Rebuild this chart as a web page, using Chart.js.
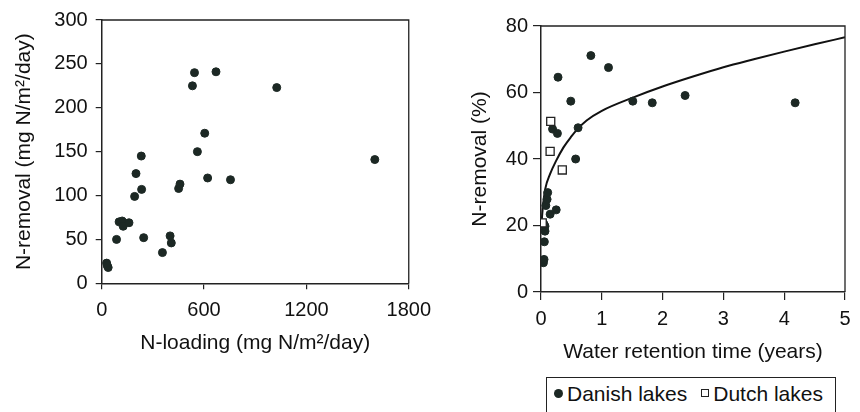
<!DOCTYPE html>
<html lang="en">
<head>
<meta charset="UTF-8">
<title>N-removal</title>
<script src="https://cdn.jsdelivr.net/npm/chart.js"></script>
<style>
  body { margin: 0; background: #fff; width: 860px; height: 412px; position: relative; overflow: hidden; font-family: "Liberation Sans", Arial, sans-serif; }
  .grafico { position: absolute; }
  #boxEsq { left: 0; top: 0; width: 440px; height: 365px; }
  #boxDir { left: 440px; top: 0; width: 420px; height: 370px; }
  .legenda { position: absolute; left: 546px; top: 377px; width: 290px; height: 42px; border: 1.5px solid #222; box-sizing: border-box;
             font-size: 21px; color: #111; padding: 4px 0 0 7px; white-space: nowrap; line-height: 24px; }
  .bola { display: inline-block; width: 9px; height: 9px; border-radius: 50%; background: #1c2824; margin-right: 4px; vertical-align: 3px; }
  .quad { display: inline-block; width: 6px; height: 6px; border: 1px solid #222; margin: 0 4px 0 14px; vertical-align: 4px; }
</style>
</head>
<body>
  <div class="grafico" id="boxEsq"><canvas id="chartEsq"></canvas></div>
  <div class="grafico" id="boxDir"><canvas id="chartDir"></canvas></div>
  <div class="legenda"><span class="bola"></span>Danish lakes<span class="quad"></span>Dutch lakes</div>

<script>
  // grafico 1: N-loading x N-removal
  const loading = [29, 38, 33, 87, 102, 120, 126, 160, 193, 201, 232, 234, 246, 356, 401, 408, 451, 459, 532, 544, 561, 604, 621, 670, 755, 1026, 1601];
  const removal = [23, 18, 20, 50, 70, 71, 65, 69, 99, 125, 145, 107, 52, 35, 54, 46, 108, 113, 225, 240, 150, 171, 120, 241, 118, 223, 141];
  const ticksLoading = [0, 600, 1200, 1800];

  // grafico 2: tempo de retencao x N-removal (%)
  const retDanish = [0.04, 0.05, 0.055, 0.066, 0.066, 0.05, 0.08, 0.1, 0.11, 0.15, 0.25, 0.28, 0.19, 0.27, 0.49, 0.61, 0.57, 0.82, 1.11, 1.51, 1.83, 2.37, 4.18];
  const remDanish = [8.8, 9.8, 15.1, 18.3, 19.8, 20.4, 26, 27.9, 29.9, 23.4, 24.7, 64.6, 49, 47.7, 57.4, 49.4, 40, 71.1, 67.5, 57.4, 56.9, 59.1, 56.9];
  const retDutch = [0.02, 0.16, 0.15, 0.35];
  const remDutch = [20.8, 51.3, 42.3, 36.7];
  // curva ajustada
  const curvaX = [0.01, 0.03, 0.07, 0.15, 0.25, 0.37, 0.5, 0.6, 0.75, 1, 1.5, 2, 2.5, 3, 3.5, 4, 4.5, 5];
  const curvaY = [21, 25.5, 31, 35.5, 39.5, 43.5, 46.8, 49, 51.6, 54.5, 58.4, 61.8, 64.8, 67.6, 70, 72.3, 74.5, 76.6];

  const pares = (xs, ys) => xs.map((x, i) => ({ x: x, y: ys[i] }));

  const fonteTick = { family: '"Liberation Sans", Arial, sans-serif', size: 20 };
  const fonteTitulo = { family: '"Liberation Sans", Arial, sans-serif', size: 21 };
  const corTexto = '#111';

  // moldura (topo e direita)
  const moldura = {
    id: 'moldura',
    afterDraw(chart) {
      const a = chart.chartArea, ctx = chart.ctx;
      ctx.save();
      ctx.strokeStyle = '#222';
      ctx.lineWidth = 1.3;
      ctx.beginPath();
      ctx.moveTo(a.left, a.top);
      ctx.lineTo(a.right, a.top);
      ctx.lineTo(a.right, a.bottom);
      ctx.stroke();
      ctx.restore();
    }
  };

  function eixo(opts) {
    return Object.assign({
      type: 'linear',
      border: { display: true, color: '#222', width: 1.5 },
      grid: { drawOnChartArea: false, color: '#222', tickLength: 6, lineWidth: 1.2 },
    }, opts);
  }

  const configEsq = {
    type: 'scatter',
    data: {
      datasets: [{
        label: 'lakes',
        data: pares(loading, removal),
        backgroundColor: '#1c2824',
        borderColor: '#1c2824',
        pointRadius: 4,
        pointHoverRadius: 4
      }]
    },
    options: {
      responsive: true,
      maintainAspectRatio: false,
      animation: false,
      events: [],
      layout: { padding: { left: 8, right: 28.3, top: 18.7, bottom: 9.4 } },
      plugins: { legend: { display: false }, tooltip: { enabled: false } },
      scales: {
        x: eixo({
          min: 0, max: 1800,
          afterBuildTicks: (ax) => { ax.ticks = ticksLoading.map(v => ({ value: v })); },
          afterFit: (ax) => { ax.height = 72.3; },
          ticks: { color: corTexto, font: fonteTick, padding: 9, maxRotation: 0, callback: (v) => v },
          title: { display: true, text: 'N-loading (mg N/m²/day)', color: corTexto, font: fonteTitulo, padding: { top: 0, bottom: 0 } }
        }),
        y: eixo({
          min: 0, max: 300,
          afterFit: (ax) => { ax.width = 93.7; },
          ticks: { stepSize: 50, color: corTexto, font: fonteTick, padding: 8, callback: (v) => v },
          title: { display: true, text: 'N-removal (mg N/m²/day)', color: corTexto, font: fonteTitulo, padding: { top: 4, bottom: 0 } }
        })
      }
    },
    plugins: [moldura]
  };

  const configDir = {
    type: 'scatter',
    data: {
      datasets: [{
        label: 'Danish lakes',
        data: pares(retDanish, remDanish),
        backgroundColor: '#1c2824',
        borderColor: '#1c2824',
        pointRadius: 4,
        pointHoverRadius: 4,
        order: 2
      }, {
        label: 'Dutch lakes',
        data: pares(retDutch, remDutch),
        pointStyle: 'rect',
        backgroundColor: '#ffffff',
        borderColor: '#222',
        borderWidth: 1.3,
        pointRadius: 5.7,
        pointHoverRadius: 5.7,
        order: 1
      }, {
        label: 'ajuste',
        type: 'line',
        data: pares(curvaX, curvaY),
        borderColor: '#111',
        borderWidth: 2,
        pointRadius: 0,
        fill: false,
        cubicInterpolationMode: 'monotone',
        order: 3
      }]
    },
    options: {
      responsive: true,
      maintainAspectRatio: false,
      animation: false,
      events: [],
      layout: { padding: { left: 24, right: 15, top: 26, bottom: 5.4 } },
      plugins: { legend: { display: false }, tooltip: { enabled: false } },
      scales: {
        x: eixo({
          min: 0, max: 5,
          afterFit: (ax) => { ax.height = 72.6; },
          ticks: { stepSize: 1, color: corTexto, font: fonteTick, padding: 7, maxRotation: 0 },
          grid: { drawOnChartArea: false, color: '#222', tickLength: 8, lineWidth: 1.2 },
          title: { display: true, text: 'Water retention time (years)', color: corTexto, font: fonteTitulo, padding: { top: 0, bottom: 0 } }
        }),
        y: eixo({
          min: 0, max: 80,
          afterFit: (ax) => { ax.width = 77; },
          ticks: { stepSize: 20, color: corTexto, font: fonteTick, padding: 5 },
          grid: { drawOnChartArea: false, color: '#222', tickLength: 8, lineWidth: 1.2 },
          title: { display: true, text: 'N-removal (%)', color: corTexto, font: fonteTitulo, padding: { top: 3.4, bottom: 0 } }
        })
      }
    },
    plugins: [moldura]
  };
</script>

<script>
  const chartEsq = new Chart(document.getElementById('chartEsq'), configEsq);
  const chartDir = new Chart(document.getElementById('chartDir'), configDir);
</script>
</body>
</html>
